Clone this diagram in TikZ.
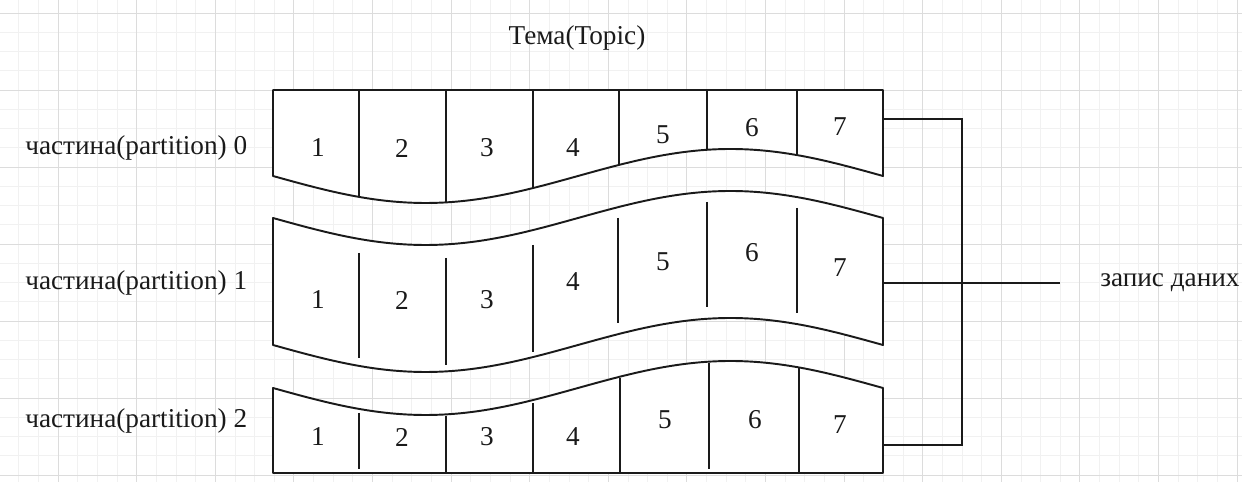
\documentclass[tikz,border=0pt]{standalone}
\usepackage{fontspec}
\setmainfont{Liberation Serif}
\usetikzlibrary{positioning}
\definecolor{gridminor}{HTML}{F1F1F1}
\definecolor{gridmajor}{HTML}{DCDCDC}
\definecolor{inkline}{HTML}{1A1A1A}
\tikzset{
  bandbox/.style={draw=inkline, fill=white, line width=1.1pt, line join=round},
  divline/.style={draw=inkline, line width=1.1pt},
  wire/.style={draw=inkline, line width=1.1pt},
  cellnum/.style={font=\fontsize{15.5}{18}\selectfont, inner sep=0pt, text=inkline},
  partlabel/.style={font=\fontsize{15.5}{18}\selectfont, inner sep=0pt, text=inkline}}

\begin{document}
\begin{tikzpicture}[x=0.02cm, y=-0.02cm]
  \useasboundingbox (0,0) rectangle (1242,482);
  % background grid
  \foreach \i in {-2,...,60}
    \draw[gridminor, line width=0.4pt] ({58+19.65*\i},0) -- ({58+19.65*\i},482);
  \foreach \j in {0,...,24}
    \draw[gridminor, line width=0.4pt] (0,{13+19.25*\j}) -- (1242,{13+19.25*\j});
  \foreach \i in {0,...,15}
    \draw[gridmajor, line width=0.5pt] ({58+78.6*\i},0) -- ({58+78.6*\i},482);
  \foreach \j in {0,...,6}
    \draw[gridmajor, line width=0.5pt] (0,{13+77*\j}) -- (1242,{13+77*\j});

  % partition 0: flat top, wavy bottom
  \draw[bandbox] (273,90) -- (883,90) -- (883,176)
    sin (730.5,149) cos (578,176) sin (425.5,203) cos (273,176) -- cycle;
  \foreach \x in {359,446,533,619,707,797}
    \draw[divline] (\x,90) -- (\x,{176+27*sin(0.59016*(\x-273))});

  % partition 1: wavy top and bottom
  \draw[bandbox] (273,218) sin (425.5,245) cos (578,218) sin (730.5,191) cos (883,218)
    -- (883,345) sin (730.5,318) cos (578,345) sin (425.5,372) cos (273,345) -- cycle;
  \foreach \x/\ya/\yb in {359/253/358, 446/258/365, 533/245/352,
                          618/218/323, 707/202/307, 797/208/313}
    \draw[divline] (\x,\ya) -- (\x,\yb);

  % partition 2: wavy top, flat bottom
  \draw[bandbox] (273,388) sin (425.5,415) cos (578,388) sin (730.5,361) cos (883,388)
    -- (883,473) -- (273,473) -- cycle;
  \foreach \x/\ya/\yb in {359/413/469, 446/416/473, 533/403/473,
                          620/378/473, 709/363/469, 799/368/473}
    \draw[divline] (\x,\ya) -- (\x,\yb);

  % cell numbers
  \foreach \n/\x/\y in {1/318/148, 2/402/148, 3/487/148, 4/573/148,
                        5/663/135, 6/752/128, 7/840/127}
    \node[cellnum] (ca\n) at (\x,\y) {\n};
  \foreach \n/\x/\y in {1/318/300, 2/402/300, 3/487/300, 4/573/282,
                        5/663/262, 6/752/253, 7/840/268}
    \node[cellnum] (cb\n) at (\x,\y) {\n};
  \foreach \n/\x/\y in {1/318/437, 2/402/437, 3/487/437, 4/573/437,
                        5/665/420, 6/755/420, 7/840/425}
    \node[cellnum] (cc\n) at (\x,\y) {\n};

  % labels
  \node[partlabel] (topic) at (577,38) {Тема(Topic)};
  \node[partlabel, anchor=west] (lab0) at (25,148) {частина(partition) 0};
  \node[partlabel, anchor=west] (lab1) at (25,283) {частина(partition) 1};
  \node[partlabel, anchor=west] (lab2) at (25,421) {частина(partition) 2};
  \node[partlabel, anchor=west] (write) at (1100,283) {запис даних};

  % connectors
  \coordinate (out0) at (883,119);
  \coordinate (out1) at (883,283);
  \coordinate (out2) at (883,445);
  \coordinate (bustop) at (962,119);
  \coordinate (busbot) at (962,445);
  \coordinate (feed) at (1060,283);
  \draw[wire] (out0) -- (bustop) -- (busbot) -- (out2);
  \draw[wire] (out1) -- (feed);
\end{tikzpicture}
\end{document}
